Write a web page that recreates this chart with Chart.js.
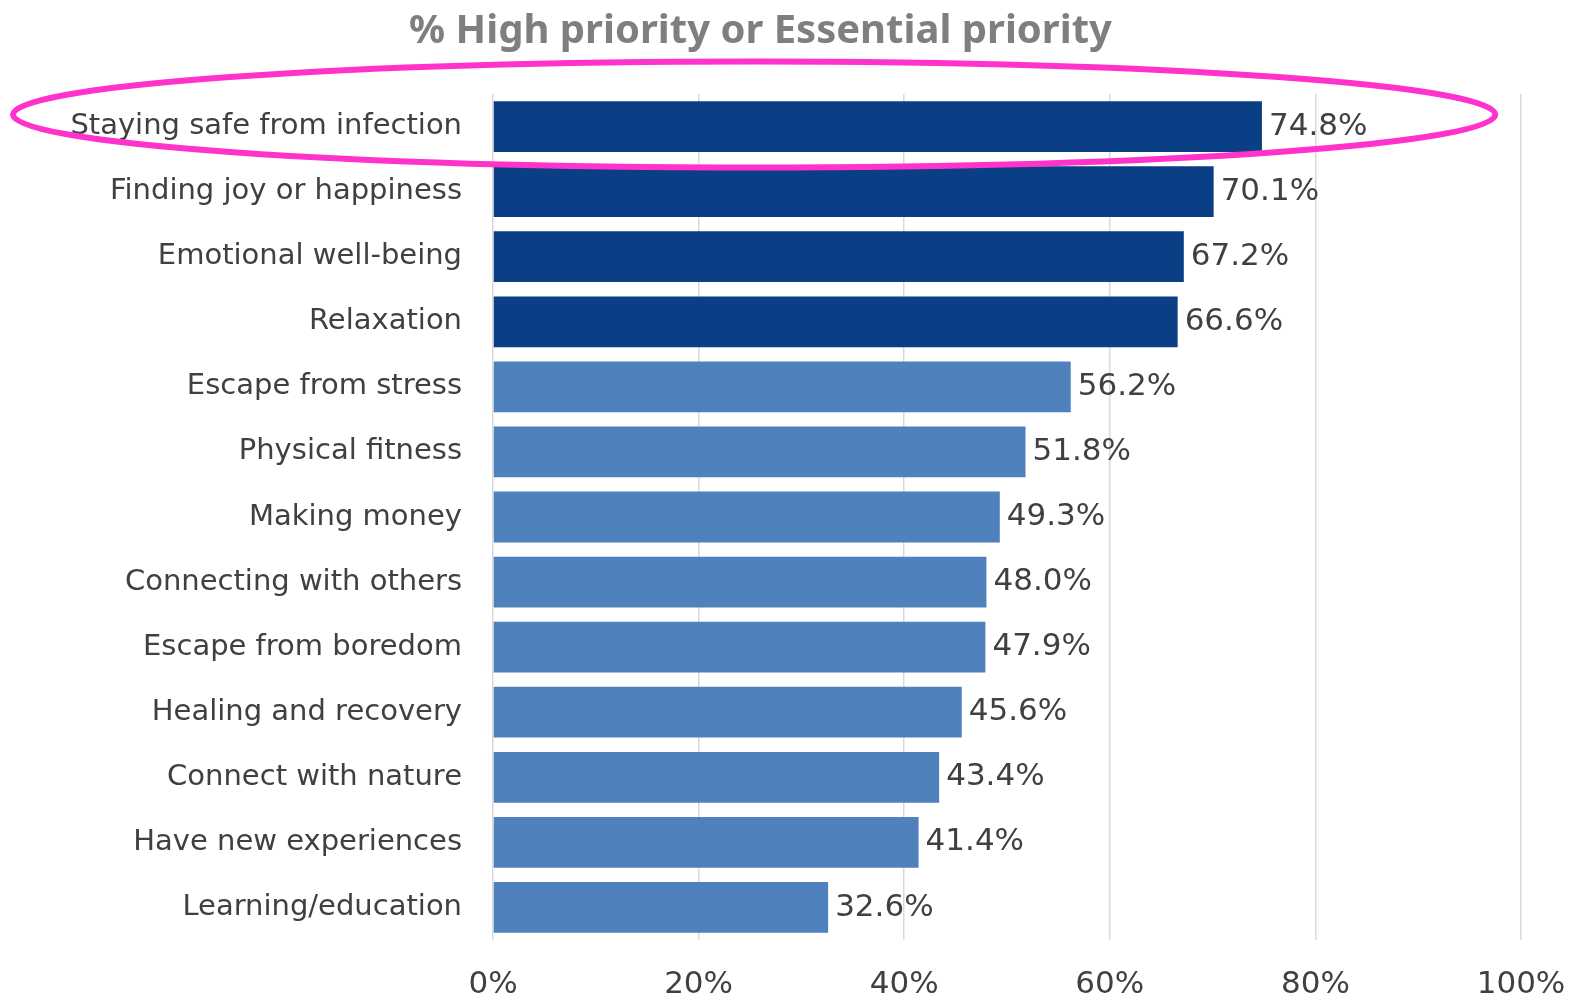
<!DOCTYPE html>
<html>
<head>
<meta charset="utf-8">
<script src="https://cdn.jsdelivr.net/npm/chart.js@4"></script>
<style>
  html, body { margin: 0; padding: 0; background: #fff; }
  #wrap { width: 1593px; height: 998px; }
</style>
</head>
<body>
<div id="wrap"><canvas id="priorityChart"></canvas></div>
<script>
// Dados do gráfico
const categories = [
  'Staying safe from infection', 'Finding joy or happiness', 'Emotional well-being',
  'Relaxation', 'Escape from stress', 'Physical fitness', 'Making money',
  'Connecting with others', 'Escape from boredom', 'Healing and recovery',
  'Connect with nature', 'Have new experiences', 'Learning/education'
];
const values = [74.8, 70.1, 67.2, 66.6, 56.2, 51.8, 49.3, 48.0, 47.9, 45.6, 43.4, 41.4, 32.6];
const xTicks = [0, 20, 40, 60, 80, 100];
const highlightCount = 4; // top 4 em azul escuro

const DARK = '#0a3f85';
const LIGHT = '#4f81bd';
const FONT = '"DejaVu Sans", "Noto Sans", sans-serif';
const TITLE_FONT = '"Noto Sans", "DejaVu Sans", sans-serif';

// Rótulos de valor na ponta das barras
const valueLabels = {
  id: 'valueLabels',
  afterDatasetsDraw(chart) {
    const ctx = chart.ctx;
    const meta = chart.getDatasetMeta(0);
    ctx.save();
    ctx.font = '31px ' + FONT;
    ctx.fillStyle = '#404040';
    ctx.textBaseline = 'middle';
    ctx.textAlign = 'left';
    meta.data.forEach((bar, i) => {
      ctx.fillText(values[i].toFixed(1) + '%', bar.x + 7, bar.y);
    });
    ctx.restore();
  }
};

// Elipse rosa em volta da primeira categoria
const highlightEllipse = {
  id: 'highlightEllipse',
  afterDraw(chart) {
    const ctx = chart.ctx;
    const x = chart.scales.x, y = chart.scales.y;
    const left = 13;
    const right = x.getPixelForValue(97.5);
    const cy = y.getPixelForValue(0) - 12;
    ctx.save();
    ctx.strokeStyle = '#ff33cc';
    ctx.lineWidth = 6;
    ctx.beginPath();
    ctx.ellipse((left + right) / 2, cy, (right - left) / 2, 53, 0, 0, Math.PI * 2);
    ctx.stroke();
    ctx.restore();
  }
};

new Chart(document.getElementById('priorityChart'), {
  type: 'bar',
  data: {
    labels: categories,
    datasets: [{
      data: values,
      backgroundColor: values.map((v, i) => i < highlightCount ? DARK : LIGHT),
      borderWidth: 0,
      barPercentage: 0.78,
      categoryPercentage: 1.0
    }]
  },
  options: {
    indexAxis: 'y',
    responsive: true,
    maintainAspectRatio: false,
    animation: false,
    layout: { padding: { left: 0, right: 72, top: 0, bottom: 0 } },
    plugins: {
      legend: { display: false },
      tooltip: { enabled: false },
      title: {
        display: true,
        text: '% High priority or Essential priority',
        color: '#7f7f7f',
        font: { family: TITLE_FONT, size: 40, weight: 'bold', lineHeight: 1.2 },
        padding: { top: 8, bottom: 38 }
      }
    },
    scales: {
      x: {
        min: 0,
        max: 100,
        afterBuildTicks(scale) { scale.ticks = xTicks.map(v => ({ value: v })); },
        afterFit(scale) { scale.height = 58; },
        grid: { color: '#d9d9d9', lineWidth: 1.5, drawTicks: false },
        border: { display: false },
        ticks: {
          padding: 26,
          color: '#404040',
          font: { family: FONT, size: 31 },
          callback: v => v + '%'
        }
      },
      y: {
        afterFit(scale) { scale.width = 493; },
        grid: { display: false },
        border: { display: false },
        ticks: {
          padding: 23,
          color: '#404040',
          font: { family: FONT, size: 29 }
        }
      }
    }
  },
  plugins: [valueLabels, highlightEllipse]
});
</script>
</body>
</html>
